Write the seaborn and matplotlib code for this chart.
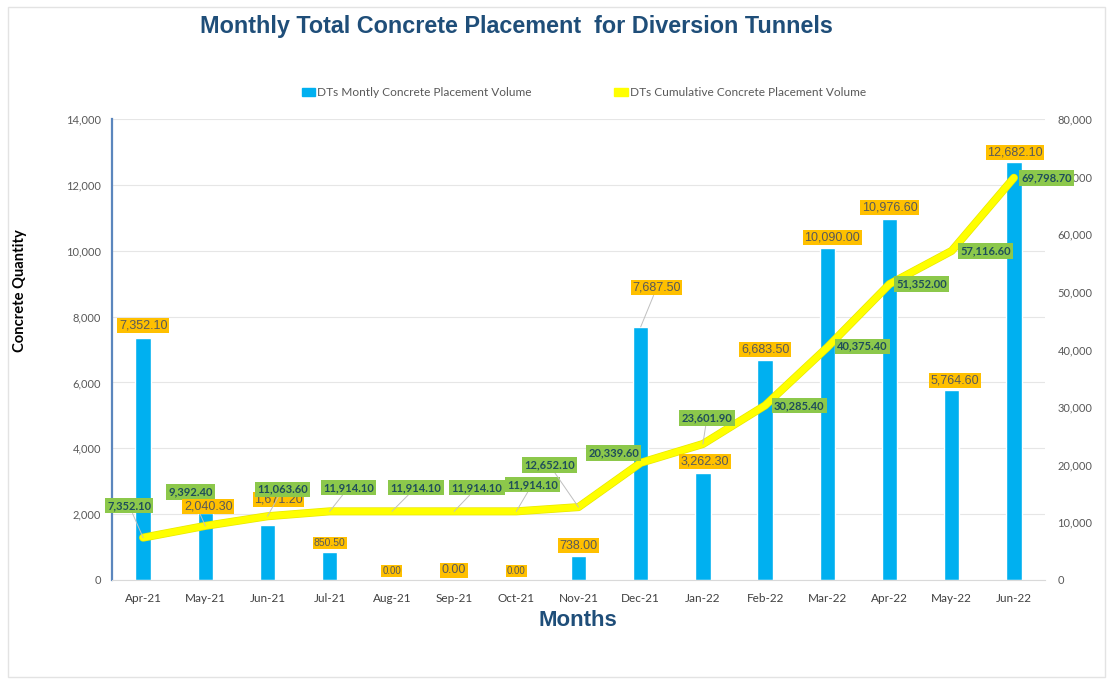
import numpy as np
import matplotlib
matplotlib.use('Agg')
import matplotlib.pyplot as plt
import matplotlib.patheffects as pe
from matplotlib.patches import Patch, Rectangle
from matplotlib.ticker import FuncFormatter, MultipleLocator
import seaborn as sns

# Data
months = ['Apr-21', 'May-21', 'Jun-21', 'Jul-21', 'Aug-21', 'Sep-21', 'Oct-21', 'Nov-21',
          'Dec-21', 'Jan-22', 'Feb-22', 'Mar-22', 'Apr-22', 'May-22', 'Jun-22']
monthly = [7352.10, 2040.30, 1671.20, 850.50, 0.00, 0.00, 0.00, 738.00,
           7687.50, 3262.30, 6683.50, 10090.00, 10976.60, 5764.60, 12682.10]
cumulative = [7352.10, 9392.40, 11063.60, 11914.10, 11914.10, 11914.10, 11914.10, 12652.10,
              20339.60, 23601.90, 30285.40, 40375.40, 51352.00, 57116.60, 69798.70]

# Label placement (pixel offsets from the mark), font sizes, leader lines, stacking
bar_off = [(0, 12), (3, 6), (11, 25), (0, 9), (0, 9), (0, 10), (0, 9), (0, 10),
           (16, 39), (2, 11), (0, 10), (5, 10), (0, 11), (3, 10), (1, 10)]
bar_fs = [9, 9, 9, 7.5, 7, 9, 7, 9, 9, 9, 9, 9, 9, 9, 9]
bar_lead = [False] * 8 + [True] + [False] * 6
bar_z = [5, 7] + [5] * 13
cum_off = [(-14, 32), (-15, 34), (15, 27), (19, 24), (24, 24), (23, 24), (16, 27), (-29, 42),
           (-27, 10), (4, 26), (34, 0), (35, 1), (32, 0), (34, 0), (33, 0)]
cum_lead = [True] * 8 + [False, True] + [False] * 5

sns.set_style('white')
plt.rcParams['font.family'] = ['Lato', 'DejaVu Sans']

fig = plt.figure(figsize=(11.13, 6.81), dpi=100)
ax = fig.add_axes([112 / 1113, 1 - 580 / 681, (1045 - 112) / 1113, (580 - 119) / 681])

sns.barplot(x=months, y=monthly, color='#00B0F0', saturation=1, width=0.245, ax=ax, zorder=2)
ax.set_xlim(-0.5, 14.5)
ax.set_ylim(0, 14000)
ax.yaxis.set_major_locator(MultipleLocator(2000))
ax.yaxis.set_major_formatter(FuncFormatter(lambda v, p: f'{int(v):,}'))
ax.grid(axis='y', color='#E6E6E6', lw=0.8, zorder=0)
ax.set_axisbelow(True)
ax.set_xlabel('')
ax.set_ylabel('')
for s in ['top', 'right']:
    ax.spines[s].set_visible(False)
ax.spines['left'].set_color('#5B86BD')
ax.spines['left'].set_linewidth(1.6)
ax.spines['bottom'].set_color('#D9D9D9')
ax.tick_params(axis='y', length=0, pad=8, labelsize=8, labelcolor='#595959')
ax.tick_params(axis='x', length=0, pad=9, labelsize=8.5, labelcolor='#404040')
ax.set_xticks(np.arange(len(months)) + 0.5, minor=True)
ax.tick_params(axis='x', which='minor', length=4, color='#D9D9D9')

ax2 = ax.twinx()
x = np.arange(len(months))
sns.lineplot(x=x, y=cumulative, ax=ax2, color='#FFFF00', lw=4.8, zorder=3,
             path_effects=[pe.Stroke(linewidth=5.8, foreground='#E8E800'), pe.Normal()])
ax2.set_ylim(0, 80000)
ax2.yaxis.set_major_locator(MultipleLocator(10000))
ax2.yaxis.set_major_formatter(FuncFormatter(lambda v, p: f'{int(v):,}'))
ax2.tick_params(axis='y', length=0, pad=9, labelsize=8, labelcolor='#595959')
ax2.set_ylabel('')
for s in ['top', 'right', 'left', 'bottom']:
    ax2.spines[s].set_visible(False)
ax2.set_xlim(-0.5, 14.5)

# Orange labels for monthly bars (placed on ax2 so they sit above the line)
for i, v in enumerate(monthly):
    ap = dict(arrowstyle='-', color='#BFBFBF', lw=0.7, shrinkA=0, shrinkB=0) if bar_lead[i] else None
    ax2.annotate(f'{v:,.2f}', xy=(i, v), xycoords=ax.transData, xytext=bar_off[i],
                 textcoords='offset pixels', ha='center', va='center', fontsize=bar_fs[i],
                 color='#595959', family=['Liberation Sans', 'DejaVu Sans'], arrowprops=ap,
                 bbox=dict(boxstyle='square,pad=0.12', fc='#FFC000', ec='none'), zorder=bar_z[i])

# Green labels for cumulative line
for i, v in enumerate(cumulative):
    ap = dict(arrowstyle='-', color='#BFBFBF', lw=0.7, shrinkA=0, shrinkB=0) if cum_lead[i] else None
    ax2.annotate(f'{v:,.2f}', xy=(i, v), xytext=cum_off[i], textcoords='offset pixels',
                 ha='center', va='center', fontsize=8, fontweight='bold', color='#1F4E5A',
                 arrowprops=ap,
                 bbox=dict(boxstyle='square,pad=0.2', fc='#8CC84B', ec='none'), zorder=6)

fig.text(516 / 1113, 1 - 27 / 681, 'Monthly Total Concrete Placement  for Diversion Tunnels',
         ha='center', va='center', fontsize=16.8, fontweight='bold', color='#1F4E79',
         family=['Liberation Sans', 'DejaVu Sans'])
fig.text(578 / 1113, 1 - 620 / 681, 'Months', ha='center', va='center', fontsize=16,
         fontweight='bold', color='#1F4E79', family=['Liberation Sans', 'DejaVu Sans'])
fig.text(20 / 1113, 1 - 291 / 681, 'Concrete Quantity', ha='center', va='center',
         rotation=90, fontsize=10.6, fontweight='bold', color='black')

handles = [Patch(color='#00B0F0', label='DTs Montly Concrete Placement Volume'),
           Patch(color='#FFFF00', label='DTs Cumulative Concrete Placement Volume')]
fig.legend(handles=handles, loc='center', bbox_to_anchor=(584 / 1113, 1 - 93 / 681), ncol=2,
           frameon=False, fontsize=8.6, labelcolor='#595959', handlelength=1.1, handleheight=0.6,
           handletextpad=0.2, columnspacing=6.9)

fig.patches.append(Rectangle((0.007, 0.006), 0.986, 0.984, transform=fig.transFigure,
                             fill=False, ec='#E3E3E3', lw=1))

fig.savefig('out.png', dpi=100)
